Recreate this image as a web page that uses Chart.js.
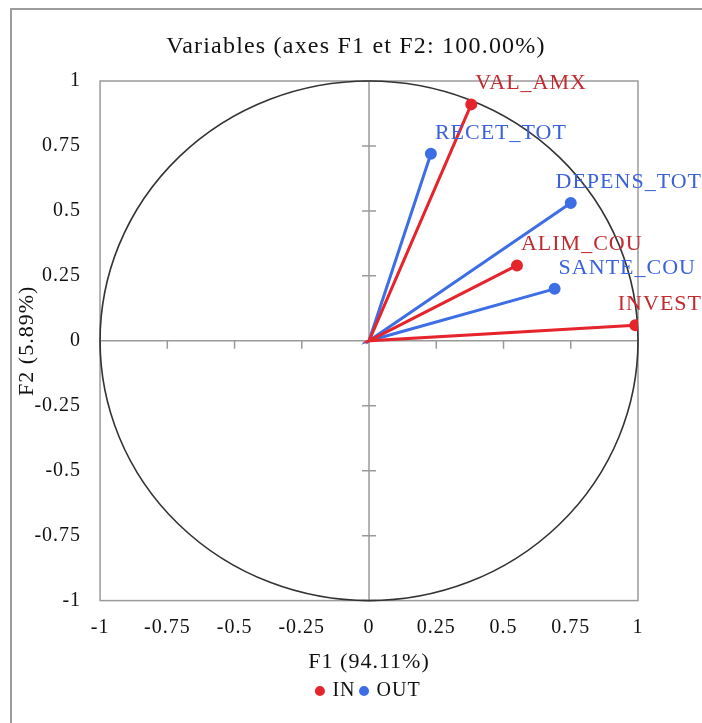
<!DOCTYPE html>
<html>
<head>
<meta charset="utf-8">
<script src="https://cdn.jsdelivr.net/npm/chart.js@4"></script>
<style>
  html, body { margin: 0; padding: 0; background: #fff; }
  #frame { position: absolute; left: 10px; top: 8px; width: 720px; height: 740px;
           border-left: 2px solid #9c9c9c; border-top: 2px solid #9c9c9c; }
  #wrap { position: absolute; left: 0; top: 0; width: 702px; height: 723px; }
</style>
</head>
<body>
<div id="frame"></div>
<div id="wrap"><canvas id="myChart"></canvas></div>
<script>
// Variables on the correlation circle (F1, F2 loadings)
const inVars = ['VAL_AMX', 'ALIM_COU', 'INVEST'];
const inF1 = [0.38, 0.55, 0.99];
const inF2 = [0.91, 0.29, 0.06];

const outVars = ['RECET_TOT', 'DEPENS_TOT', 'SANTE_COU'];
const outF1 = [0.23, 0.75, 0.69];
const outF2 = [0.72, 0.53, 0.20];

const tickValues = [-1, -0.75, -0.5, -0.25, 0, 0.25, 0.5, 0.75, 1];
const chartTitle = 'Variables (axes F1 et F2: 100.00%)';

const SERIF = '"Liberation Serif", "DejaVu Serif", serif';
const RED = '#e5242b';
const BLUE = '#3d6ee6';

// each vector goes origin -> point, so the line returns to the origin between points
function vectors(f1, f2, names) {
  const pts = [];
  f1.forEach((x, i) => {
    pts.push({ x: 0, y: 0, name: null });
    pts.push({ x: x, y: f2[i], name: names[i] });
  });
  return pts;
}

// the original uses slightly spaced-out lettering everywhere
const spacingPlugin = {
  id: 'spacing',
  beforeLayout(chart) { chart.ctx.letterSpacing = '1px'; },
  beforeDraw(chart) { chart.ctx.letterSpacing = '1px'; }
};

// circle, axes through origin, tick crosses and the plot frame
const circlePlugin = {
  id: 'circle',
  beforeDatasetsDraw(chart) {
    const { ctx, chartArea: a, scales: { x, y } } = chart;
    const cx = x.getPixelForValue(0), cy = y.getPixelForValue(0);
    ctx.save();
    ctx.strokeStyle = '#9a9a9a';
    ctx.lineWidth = 1.5;
    ctx.strokeRect(a.left, a.top, a.right - a.left, a.bottom - a.top);
    ctx.beginPath();
    ctx.moveTo(a.left, cy); ctx.lineTo(a.right, cy);
    ctx.moveTo(cx, a.top); ctx.lineTo(cx, a.bottom);
    tickValues.forEach(v => {
      const px = x.getPixelForValue(v);
      ctx.moveTo(px, cy); ctx.lineTo(px, cy + 8);
      const py = y.getPixelForValue(v);
      ctx.moveTo(cx - 7, py); ctx.lineTo(cx + 7, py);
    });
    ctx.stroke();
    ctx.strokeStyle = '#333';
    ctx.lineWidth = 1.6;
    ctx.beginPath();
    ctx.ellipse(cx, cy, x.getPixelForValue(1) - cx, cy - y.getPixelForValue(1), 0, 0, Math.PI * 2);
    ctx.stroke();
    ctx.restore();
  }
};

// variable names next to the arrow tips, plus the title
const namePlugin = {
  id: 'names',
  afterDatasetsDraw(chart) {
    const { ctx } = chart;
    ctx.save();
    ctx.font = '22px ' + SERIF;
    ctx.letterSpacing = '1px';
    ctx.textBaseline = 'alphabetic';
    ctx.textAlign = 'left';
    chart.data.datasets.forEach((ds, di) => {
      const meta = chart.getDatasetMeta(di);
      ctx.fillStyle = ds.labelColor;
      ds.data.forEach((p, i) => {
        if (!p.name) return;
        const el = meta.data[i];
        const w = ctx.measureText(p.name).width;
        let lx = el.x + 4;
        if (lx + w > chart.width) lx = chart.width - w;
        ctx.fillText(p.name, lx, el.y - 15);
      });
    });
    ctx.font = '24px ' + SERIF;
    ctx.letterSpacing = '1.2px';
    ctx.fillStyle = '#111';
    ctx.textAlign = 'center';
    ctx.textBaseline = 'middle';
    ctx.fillText(chartTitle, 356, 47);
    ctx.restore();
  }
};

const ctx = document.getElementById('myChart').getContext('2d');
const myChart = new Chart(ctx, {
  type: 'scatter',
  data: {
    datasets: [
      {
        label: 'IN',
        data: vectors(inF1, inF2, inVars),
        showLine: true,
        borderColor: RED,
        backgroundColor: RED,
        borderWidth: 3,
        labelColor: '#c22a2e',
        pointRadius: c => (c.raw && c.raw.name ? 4.5 : 0),
        pointHoverRadius: 0
      },
      {
        label: 'OUT',
        data: vectors(outF1, outF2, outVars),
        showLine: true,
        borderColor: BLUE,
        backgroundColor: BLUE,
        borderWidth: 3,
        labelColor: '#3a62dd',
        pointRadius: c => (c.raw && c.raw.name ? 4.5 : 0),
        pointHoverRadius: 0
      }
    ]
  },
  options: {
    responsive: true,
    maintainAspectRatio: false,
    animation: false,
    layout: { padding: { left: 10, right: 64, top: 81, bottom: 12 } },
    plugins: {
      title: { display: false },
      legend: {
        position: 'bottom',
        fullSize: false,
        labels: {
          usePointStyle: true,
          pointStyle: 'circle',
          boxWidth: 5,
          boxHeight: 5,
          padding: 6,
          color: '#111',
          font: { family: SERIF, size: 20 }
        }
      },
      tooltip: { enabled: false }
    },
    scales: {
      x: {
        min: -1,
        max: 1,
        afterBuildTicks: s => { s.ticks = tickValues.map(v => ({ value: v })); },
        grid: { display: false, drawTicks: false },
        border: { display: false },
        ticks: {
          padding: 15,
          color: '#111',
          font: { family: SERIF, size: 20 },
          callback: v => String(v)
        },
        title: {
          display: true,
          text: 'F1 (94.11%)',
          color: '#111',
          font: { family: SERIF, size: 22 },
          padding: { top: -6, bottom: 0 }
        }
      },
      y: {
        min: -1,
        max: 1,
        afterBuildTicks: s => { s.ticks = tickValues.map(v => ({ value: v })); },
        grid: { display: false, drawTicks: false },
        border: { display: false },
        ticks: {
          padding: 19,
          color: '#111',
          font: { family: SERIF, size: 20 },
          callback: v => String(v)
        },
        title: {
          display: true,
          text: 'F2 (5.89%)',
          color: '#111',
          font: { family: SERIF, size: 22 },
          padding: { top: 4, bottom: -25 }
        }
      }
    }
  },
  plugins: [spacingPlugin, circlePlugin, namePlugin]
});
</script>
</body>
</html>
